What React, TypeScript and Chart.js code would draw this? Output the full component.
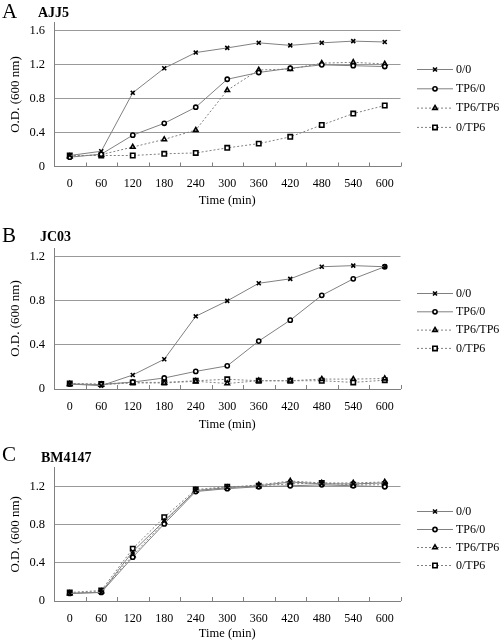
import React, { useEffect, useRef } from 'react';
import { Chart, registerables } from 'chart.js';
import { drawPoint } from 'chart.js/helpers';

Chart.register(...registerables);

const timeLabels = ['0', '60', '120', '180', '240', '300', '360', '420', '480', '540', '600'];
const seriesNames = ['0/0', 'TP6/0', 'TP6/TP6', '0/TP6'];

// Panel A: AJJ5
const ajj5_00 = [0.13, 0.18, 0.87, 1.16, 1.345, 1.40, 1.46, 1.43, 1.46, 1.48, 1.47];
const ajj5_tp0 = [0.11, 0.145, 0.37, 0.51, 0.70, 1.03, 1.11, 1.16, 1.20, 1.19, 1.18];
const ajj5_tptp = [0.12, 0.14, 0.23, 0.32, 0.43, 0.90, 1.14, 1.15, 1.22, 1.23, 1.21];
const ajj5_0tp = [0.13, 0.13, 0.13, 0.15, 0.16, 0.22, 0.27, 0.35, 0.49, 0.625, 0.72];

// Panel B: JC03
const jc03_00 = [0.045, 0.03, 0.127, 0.27, 0.66, 0.80, 0.96, 1.00, 1.11, 1.12, 1.11];
const jc03_tp0 = [0.045, 0.04, 0.063, 0.10, 0.16, 0.21, 0.435, 0.625, 0.85, 1.00, 1.11];
const jc03_tptp = [0.045, 0.04, 0.055, 0.055, 0.07, 0.05, 0.075, 0.075, 0.09, 0.09, 0.095];
const jc03_0tp = [0.05, 0.045, 0.06, 0.06, 0.075, 0.088, 0.075, 0.075, 0.075, 0.06, 0.08];

// Panel C: BM4147
const bm_00 = [0.08, 0.09, 0.52, 0.84, 1.16, 1.19, 1.21, 1.25, 1.23, 1.23, 1.24];
const bm_tp0 = [0.08, 0.09, 0.46, 0.81, 1.15, 1.18, 1.20, 1.21, 1.22, 1.21, 1.20];
const bm_tptp = [0.08, 0.10, 0.48, 0.83, 1.16, 1.19, 1.22, 1.26, 1.24, 1.24, 1.25];
const bm_0tp = [0.09, 0.11, 0.55, 0.88, 1.17, 1.20, 1.21, 1.23, 1.24, 1.22, 1.22];

const yTickStep = 0.4;
const xTitle = 'Time (min)';
const yTitle = 'O.D. (600 nm)';

const FONT = '"Liberation Serif", "Times New Roman", serif';
const LINE = '#808080';
const GRID = '#999999';

const seriesStyles = [
  { pointStyle: 'crossRot', radius: 2.8, dash: [] as number[], bg: '#000' },
  { pointStyle: 'circle', radius: 2.1, dash: [] as number[], bg: '#fff' },
  { pointStyle: 'triangle', radius: 2.6, dash: [2, 2], bg: '#fff' },
  { pointStyle: 'rect', radius: 3.1, dash: [2, 2], bg: '#fff' },
];

type Panel = {
  letter: string;
  strain: string;
  series: number[][];
  max: number;
  height: number;
  top: number;
  bottom: number;
  xTitlePad: number;
  legendY: number;
  legendGap: number;
  letterBase: number;
  strainX: number;
  strainBase: number;
  offsetTop: number;
};

const panels: Panel[] = [
  {
    letter: 'A', strain: 'AJJ5', series: [ajj5_00, ajj5_tp0, ajj5_tptp, ajj5_0tp], max: 1.7,
    height: 212, top: 22.5, bottom: 166.5, xTitlePad: 4, legendY: 69, legendGap: 19.3,
    letterBase: 18, strainX: 38, strainBase: 17, offsetTop: 0,
  },
  {
    letter: 'B', strain: 'JC03', series: [jc03_00, jc03_tp0, jc03_tptp, jc03_0tp], max: 1.28,
    height: 222, top: 36, bottom: 177, xTitlePad: 2, legendY: 81, legendGap: 18.3,
    letterBase: 30, strainX: 40, strainBase: 29, offsetTop: 212,
  },
  {
    letter: 'C', strain: 'BM4147', series: [bm_00, bm_tp0, bm_tptp, bm_0tp], max: 1.4,
    height: 207, top: 33.7, bottom: 167, xTitlePad: 0, legendY: 77, legendGap: 18,
    letterBase: 27, strainX: 41, strainBase: 28, offsetTop: 434,
  },
];

function PanelChart({ p }: { p: Panel }) {
  const ref = useRef<HTMLCanvasElement | null>(null);
  useEffect(() => {
    if (!ref.current) return;
    const decor = {
      id: 'decor',
      afterDraw(chart: any) {
        const ctx = chart.ctx;
        const area = chart.chartArea;
        ctx.save();
        // inside tick marks on x axis at category boundaries
        const n = timeLabels.length;
        const w = (area.right - area.left) / n;
        ctx.strokeStyle = LINE;
        ctx.lineWidth = 1;
        ctx.setLineDash([]);
        for (let i = 1; i <= n; i++) {
          const x = Math.round(area.left + i * w) + 0.5;
          ctx.beginPath();
          ctx.moveTo(x, area.bottom);
          ctx.lineTo(x, area.bottom - 4);
          ctx.stroke();
        }
        // panel letter and strain name
        ctx.fillStyle = '#000';
        ctx.textBaseline = 'alphabetic';
        ctx.textAlign = 'left';
        ctx.font = `21px ${FONT}`;
        ctx.fillText(p.letter, 2, p.letterBase);
        ctx.font = `bold 14px ${FONT}`;
        ctx.fillText(p.strain, p.strainX, p.strainBase);
        // legend
        chart.data.datasets.forEach((ds: any, i: number) => {
          const y = p.legendY + i * p.legendGap;
          ctx.strokeStyle = ds.borderColor;
          ctx.lineWidth = ds.borderWidth;
          ctx.setLineDash(ds.borderDash || []);
          ctx.beginPath();
          ctx.moveTo(417, y + 0.5);
          ctx.lineTo(453, y + 0.5);
          ctx.stroke();
          ctx.setLineDash([]);
          ctx.fillStyle = ds.pointBackgroundColor;
          ctx.strokeStyle = ds.pointBorderColor;
          ctx.lineWidth = ds.pointBorderWidth;
          drawPoint(ctx, { pointStyle: ds.pointStyle, radius: ds.pointRadius, rotation: 0, borderWidth: ds.pointBorderWidth }, 435, y + 0.5);
          ctx.fillStyle = '#000';
          ctx.font = `12px ${FONT}`;
          ctx.textBaseline = 'middle';
          ctx.fillText(ds.label, 456, y + 0.5);
        });
        ctx.restore();
      },
    };
    const chart = new Chart(ref.current, {
      type: 'line',
      data: {
        labels: timeLabels,
        datasets: p.series.map((vals, i) => ({
          label: seriesNames[i],
          data: vals,
          borderColor: LINE,
          borderWidth: 1,
          borderDash: seriesStyles[i].dash,
          pointStyle: seriesStyles[i].pointStyle as any,
          pointRadius: seriesStyles[i].radius,
          pointBorderColor: '#000',
          pointBackgroundColor: seriesStyles[i].bg,
          pointBorderWidth: 1.6,
          tension: 0,
          fill: false,
        })),
      },
      options: {
        animation: false,
        responsive: false,
        maintainAspectRatio: false,
        devicePixelRatio: 1,
        layout: { padding: { top: p.top, right: 99.5, bottom: 0, left: 0 } },
        plugins: { legend: { display: false }, tooltip: { enabled: false }, title: { display: false } },
        scales: {
          x: {
            type: 'category',
            offset: true,
            grid: { display: false, drawTicks: false },
            border: { display: true, color: LINE, width: 1 },
            ticks: { padding: 10.5, color: '#000', font: { family: FONT, size: 12 }, maxRotation: 0, autoSkip: false },
            title: { display: true, text: xTitle, color: '#000', font: { family: FONT, size: 12.5 }, padding: { top: 0, bottom: p.xTitlePad } },
            afterFit: (s: any) => { s.height = p.height - p.bottom; },
          },
          y: {
            type: 'linear',
            min: 0,
            max: p.max,
            grid: { color: GRID, drawTicks: false, lineWidth: 1 },
            border: { display: true, color: LINE, width: 1 },
            ticks: {
              stepSize: yTickStep,
              includeBounds: false,
              padding: 9,
              color: '#000',
              font: { family: FONT, size: 12.5 },
              callback: (v: any) => (Number(v) === 0 ? '0' : Number(v).toFixed(1)),
            },
            title: { display: true, text: yTitle, color: '#000', font: { family: FONT, size: 13 }, padding: { top: 8, bottom: 0 } },
            afterFit: (s: any) => { s.width = 54; },
          },
        },
      } as any,
      plugins: [decor],
    });
    return () => chart.destroy();
  }, [p]);
  return (
    <canvas
      ref={ref}
      width={500}
      height={p.height}
      style={{ position: 'absolute', left: 0, top: p.offsetTop, width: 500, height: p.height, display: 'block' }}
    />
  );
}

export default function App() {
  return (
    <div style={{ position: 'absolute', left: 0, top: 0, width: 500, height: 641, background: '#fff' }}>
      {panels.map((p) => (
        <PanelChart key={p.letter} p={p} />
      ))}
    </div>
  );
}
